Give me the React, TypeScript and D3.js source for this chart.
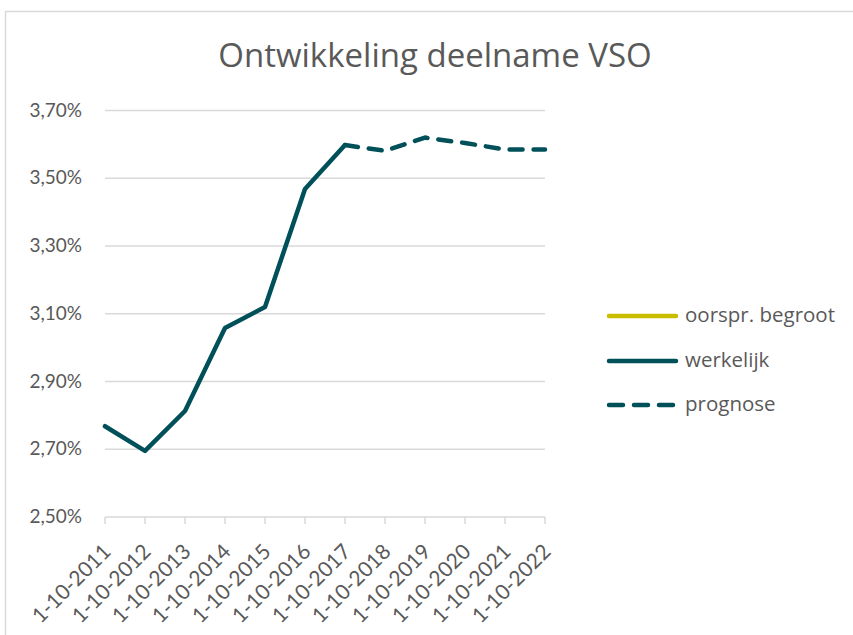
import React from "react";
import * as d3 from "d3";

const categories = ["1-10-2011","1-10-2012","1-10-2013","1-10-2014","1-10-2015","1-10-2016","1-10-2017","1-10-2018","1-10-2019","1-10-2020","1-10-2021","1-10-2022"];
const werkelijk: (number | null)[] = [2.768, 2.695, 2.813, 3.058, 3.12, 3.468, 3.598, null, null, null, null, null];
const prognose: (number | null)[] = [null, null, null, null, null, null, 3.598, 3.581, 3.62, 3.604, 3.585, 3.585];
const yTicks = [2.5, 2.7, 2.9, 3.1, 3.3, 3.5, 3.7];
const legendItems = ["oorspr. begroot", "werkelijk", "prognose"];

const W = 853, H = 635;
const font = "Lato, 'Open Sans', sans-serif";
const wideFont = "'Open Sans', sans-serif";
const textColor = "#595959";
const teal = "#00505A";
const yellow = "#C9BD00";

export default function App() {
  const x = d3.scalePoint<string>().domain(categories).range([105, 545]);
  const y = d3.scaleLinear().domain([2.5, 3.7]).range([517, 110.5]);
  const mk = (vals: (number | null)[]) =>
    d3.line<number | null>()
      .defined((d) => d != null)
      .x((_, i) => x(categories[i])!)
      .y((d) => y(d as number))(vals) || "";
  const fmt = (v: number) => v.toFixed(2).replace(".", ",") + "%";
  const legendY = [316, 361, 405];
  return (
    <svg width={W} height={H} style={{ position: "absolute", left: 0, top: 0, background: "#fff" }}>
      <rect x={5.5} y={11.5} width={900} height={700} fill="#fff" stroke="#d9d9d9" strokeWidth={1.5} />
      <text x={435} y={67} textAnchor="middle" fontFamily={wideFont} fontSize={33} fill={textColor}>
        Ontwikkeling deelname VSO
      </text>
      {yTicks.map((t) => (
        <g key={t}>
          {t !== 2.5 && (
            <line x1={105} x2={545} y1={y(t)} y2={y(t)} stroke="#d9d9d9" strokeWidth={1.5} />
          )}
          <text x={82} y={y(t) + 6} textAnchor="end" fontFamily={font} fontSize={19} fill={textColor}>
            {fmt(t)}
          </text>
        </g>
      ))}
      <line x1={105} x2={545} y1={517} y2={517} stroke="#d9d9d9" strokeWidth={1.5} />
      {categories.map((c) => (
        <g key={c}>
          <line x1={x(c)} x2={x(c)} y1={517} y2={524} stroke="#d9d9d9" strokeWidth={1.5} />
          <text
            transform={`translate(${x(c)! + 7},${553}) rotate(-45)`}
            textAnchor="end"
            fontFamily={font}
            fontSize={21}
            fill={textColor}
          >
            {c}
          </text>
        </g>
      ))}
      <path d={mk(werkelijk)} fill="none" stroke={teal} strokeWidth={4.5} strokeLinejoin="round" strokeLinecap="round" />
      <path d={mk(prognose)} fill="none" stroke={teal} strokeWidth={4.5} strokeLinejoin="round" strokeLinecap="round" strokeDasharray="13 11" />
      {legendItems.map((l, i) => (
        <g key={l}>
          <line
            x1={609}
            x2={676}
            y1={legendY[i]}
            y2={legendY[i]}
            stroke={i === 0 ? yellow : teal}
            strokeWidth={4.5}
            strokeLinecap="round"
            strokeDasharray={i === 2 ? "14 11" : undefined}
          />
          <text x={685} y={legendY[i] + 6} fontFamily={wideFont} fontSize={20.5} fill={textColor}>
            {l}
          </text>
        </g>
      ))}
    </svg>
  );
}
